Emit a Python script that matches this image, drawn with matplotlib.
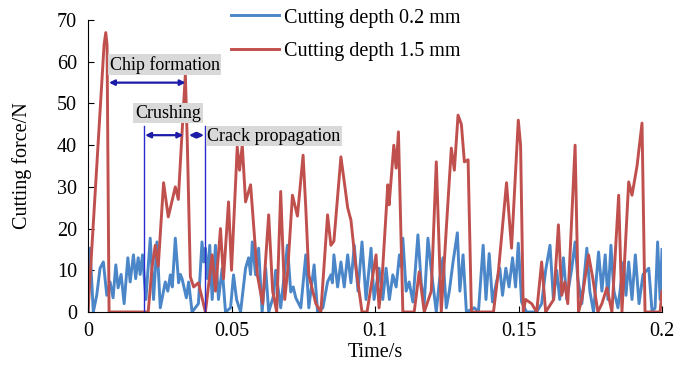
import matplotlib
matplotlib.use("Agg")
import matplotlib.pyplot as plt

plt.rcParams['font.family'] = ['Liberation Serif', 'DejaVu Serif']

# readings: (time in ms, force in N)
depth_02 = [
    (0, 0), (0.70, 15.3), (1.85, 0), (3.04, 4), (4.20, 10.5), (5.35, 12), (6.54, 4),
    (7.69, 7.2), (8.74, 3.4), (9.69, 11.3), (10.49, 5.8), (11.54, 9), (12.59, 2),
    (13.88, 13), (14.69, 7.2), (15.84, 13.7), (16.61, 8), (17.49, 13), (18.18, 9),
    (18.99, 13.7), (20.18, 3), (21.68, 17.7), (22.84, 3), (24.02, 16.8), (25.18, 1),
    (26.93, 7.2), (27.80, 5), (28.68, 8.9), (29.37, 6), (30.42, 17.7), (31.58, 7),
    (32.17, 9), (32.77, 8), (34.27, 3.4), (35.07, 7.2), (36.26, 0), (38.47, 2),
    (39.72, 16.8), (40.35, 12), (40.91, 15.3), (41.61, 8), (42.42, 16), (43.26, 3),
    (44.41, 16), (45.46, 3), (46.75, 10.5), (47.91, 0), (49.66, 1), (50.71, 8.9),
    (51.76, 3), (53.15, 0), (54.90, 10.5), (55.95, 13), (56.65, 9), (57.25, 16.8),
    (58.40, 8.9), (59.45, 15.3), (60.67, 0), (61.90, 10.5), (62.95, 0), (64.69, 4),
    (65.39, 10), (67.14, 1), (69.48, 16), (70.64, 4.8), (71.51, 6), (72.39, 3.4),
    (74.14, 1), (75.88, 13.7), (76.93, 1), (78.79, 11.3), (79.98, 0), (81.83, 1),
    (83.47, 7.2), (84.63, 8.9), (85.15, 7), (85.68, 13.7), (86.97, 6), (88.12, 12),
    (89.28, 6), (90.47, 13.7), (91.62, 7), (92.78, 16), (94.07, 5), (95.47, 16.8),
    (96.87, 3), (98.62, 15.3), (99.66, 3), (101.41, 10.5), (102.71, 3), (103.86, 10.5),
    (105.01, 3), (106.20, 8.9), (107.36, 6), (108.51, 13.7), (108.93, 11), (109.70, 17.7),
    (110.85, 5), (111.90, 7.2), (113.20, 2.4), (114.95, 18.5), (116.10, 7), (117.15, 2),
    (118.44, 17.7), (119.60, 10), (121.35, 0), (122.40, 7.2), (123.69, 13), (124.84, 1),
    (125.89, 5), (127.19, 12), (128.69, 19), (129.56, 5), (130.68, 13.7), (131.84, 0),
    (134.63, 1), (136.03, 0), (137.68, 16), (138.66, 3), (139.78, 14), (140.93, 2.4),
    (142.33, 7.2), (143.48, 10.5), (144.43, 4), (145.58, 10.5), (146.70, 6), (147.92, 13),
    (148.97, 6), (149.92, 16.5), (151.07, 2.4), (152.82, 0), (156.32, 0), (158.06, 2),
    (159.46, 10), (160.97, 16), (162.16, 3), (163.31, 10), (164.36, 3), (165.65, 13),
    (166.81, 3), (168.56, 10.5), (169.71, 16.8), (170.65, 8), (172.05, 2), (173.80, 15.3),
    (174.85, 5), (176.14, 0), (177.89, 14.4), (179.05, 5), (180.20, 13.7), (181.15, 3),
    (182.20, 16), (183.24, 5), (184.64, 1), (186.63, 12), (187.44, 4), (188.38, 12),
    (189.54, 3), (190.70, 13.7), (191.99, 2), (193.38, 9), (195.38, 10.5), (196.53, 0),
    (197.58, 1), (198.46, 16.8), (199.33, 3), (200.0, 15),
]

depth_15 = [
    (0, 0), (5.59, 64), (6.19, 67), (6.64, 64), (7.34, 0), (20.98, 0), (22.28, 10.5),
    (23.43, 16), (24.48, 11), (26.33, 31), (27.97, 22.8), (30.42, 30), (31.47, 27),
    (32.52, 40), (33.92, 57), (34.62, 40), (35.67, 8.4), (36.82, 6), (38.47, 7),
    (40.91, 0), (43.26, 13.7), (44.41, 5), (46.16, 20), (47.21, 8), (48.96, 26.4),
    (50.01, 10), (52.0, 39.6), (52.8, 34), (53.75, 40), (54.9, 26.4), (56.65, 30.5),
    (59.0, 8.9), (60.85, 2), (62.95, 23.3), (64.34, 5), (65.74, 0), (67.14, 28.9),
    (68.54, 3), (69.59, 10), (71.23, 28), (72.98, 23), (74.94, 37.6), (75.88, 25),
    (76.93, 8.9), (79.38, 2), (81.13, 0), (83.47, 23.3), (84.63, 16), (85.68, 17),
    (88.12, 37.2), (89.52, 30), (90.47, 25), (91.62, 22), (93.37, 10.5), (95.47, 0),
    (97.22, 0), (100.36, 13.7), (101.41, 1), (102.46, 8), (104.45, 30.5), (104.91, 25.7),
    (106.55, 40), (107.36, 34.5), (108.16, 43.2), (109.70, 0), (113.65, 0), (115.40, 9.6),
    (117.15, 0), (119.60, 5), (121.35, 36), (123.09, 0), (124.84, 20), (126.59, 39.3),
    (127.64, 34), (128.93, 47.2), (130.09, 45), (131.14, 36), (132.43, 36.5), (133.59, 0),
    (141.28, 0), (143.03, 10), (145.82, 31), (147.57, 15.3), (149.92, 46), (150.72, 40),
    (151.66, 0), (152.47, 3), (154.57, 2), (156.32, 0), (158.06, 12), (159.46, 0),
    (162.26, 3), (163.90, 20.9), (165.06, 4), (166.11, 7.2), (167.16, 2), (169.71, 40),
    (170.90, 0), (172.05, 3), (174.40, 13.7), (175.90, 8), (177.65, 0), (179.05, 2),
    (180.79, 5.8), (182.54, 0), (184.89, 28), (186.04, 0), (188.38, 31.2), (189.54, 28),
    (191.29, 35), (193.03, 45.3), (194.08, 0), (199.33, 0), (200.0, 5),
]

blue_t = [p[0] / 1000 for p in depth_02]
blue_f = [p[1] for p in depth_02]
red_t = [p[0] / 1000 for p in depth_15]
red_f = [p[1] for p in depth_15]

fig = plt.figure(figsize=(6.79, 3.79), dpi=100)
ax = fig.add_axes([0.1296, 0.1768, 0.8454, 0.7702])

ax.plot(blue_t, blue_f, color='#4A86C8', lw=2.1, label='Cutting depth 0.2 mm',
        solid_joinstyle='round')
ax.plot(red_t, red_f, color='#C0504D', lw=2.1, label='Cutting depth 1.5 mm',
        solid_joinstyle='round')

ax.set_xlim(0, 0.2)
ax.set_ylim(0, 70)
ax.set_xticks([0, 0.05, 0.1, 0.15, 0.2])
ax.set_xticklabels(['0', '0.05', '0.1', '0.15', '0.2'])
ax.set_yticks(range(0, 71, 10))
ax.tick_params(direction='in', length=4, labelsize=14.5)
ax.tick_params(axis='y', pad=8)
ax.tick_params(axis='x', pad=7)
ax.spines['top'].set_visible(False)
ax.spines['right'].set_visible(False)
ax.set_xlabel('Time/s', fontsize=14.5, labelpad=2)
ax.set_ylabel('Cutting force/N', fontsize=14.5, labelpad=18)

# stage markers
navy = '#1c1ca8'
for tx in [0.0196, 0.0406]:
    ax.plot([tx, tx], [0, 44.5], color='#2a2ad0', lw=1)

box = dict(boxstyle='square,pad=0.1', fc='#d9d9d9', ec='none')
ax.text(0.0075, 59.3, 'Chip formation', fontsize=13, va='center', bbox=box)
ax.text(0.0164, 47.7, 'Crushing', fontsize=13, va='center', bbox=box)
ax.text(0.0416, 42.2, 'Crack propagation', fontsize=13, va='center', bbox=box)

arrow = dict(arrowstyle='<|-|>', color=navy, lw=1.6, mutation_scale=8,
             shrinkA=0, shrinkB=0)
ax.annotate('', xy=(0.0073, 55), xytext=(0.0340, 55), arrowprops=arrow)
ax.annotate('', xy=(0.0199, 42.4), xytext=(0.0332, 42.4), arrowprops=arrow)
ax.annotate('', xy=(0.0352, 42.4), xytext=(0.0404, 42.4), arrowprops=arrow)

fig.legend(loc='upper left', bbox_to_anchor=(0.32, 1.015), frameon=False,
           fontsize=14.5, handlelength=2.35, handletextpad=0.25, labelspacing=0.7,
           borderpad=0.2)

fig.savefig('out.png', dpi=100)
